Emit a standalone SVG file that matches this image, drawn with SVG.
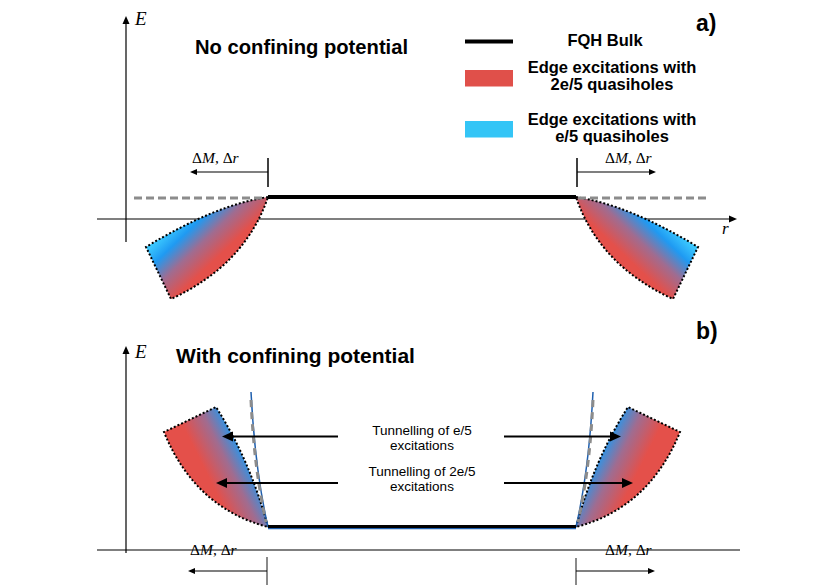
<svg xmlns="http://www.w3.org/2000/svg" width="830" height="587" viewBox="0 0 830 587">
<defs>
<linearGradient id="ga" gradientUnits="userSpaceOnUse" x1="165" y1="232" x2="207" y2="276">
<stop offset="0" stop-color="#3ccaff"/><stop offset="0.25" stop-color="#1f9af2"/><stop offset="0.55" stop-color="#a06c90"/><stop offset="0.9" stop-color="#e4504a"/>
</linearGradient>
<linearGradient id="gb" gradientUnits="userSpaceOnUse" x1="248" y1="426" x2="196" y2="452">
<stop offset="0" stop-color="#3ccaff"/><stop offset="0.25" stop-color="#1f9af2"/><stop offset="0.6" stop-color="#a06c90"/><stop offset="1" stop-color="#e4504a"/>
</linearGradient>
<path id="wa" d="M268,197 Q215,205 146,247 L171,299 Q245,265 268,197 Z"/>
<path id="wb" d="M268,527 Q250,460 216,407 L164,432 Q195,508 268,527 Z"/>
</defs>
<style>
.ax{stroke:#000;stroke-width:1.2;fill:none}
.dot{fill:none;stroke:#000;stroke-width:2;stroke-dasharray:2 2}
.bulk{stroke:#000;stroke-width:4;fill:none}
.gdash{stroke:#8c8c8c;stroke-width:3;stroke-dasharray:8 4;fill:none}
.tick{stroke:#000;stroke-width:1.5}
.tickg{stroke:#8a8a8a;stroke-width:2}
.darr{stroke:#000;stroke-width:1.2;fill:none}
.tarr{stroke:#000;stroke-width:2;fill:none}
.head{fill:#000;stroke:none}
.h{font-family:"Liberation Sans",Arial,sans-serif;font-weight:bold;fill:#000}
.t{font-family:"Liberation Sans",Arial,sans-serif;fill:#000;font-size:13.5px}
.m{font-family:"Liberation Serif","Times New Roman",serif;fill:#000}
.i{font-style:italic}
</style>

<g id="panel-a-axes">
<line class="ax" x1="126" y1="242" x2="126" y2="22"/>
<polygon class="head" points="126,16 122.5,24 129.5,24"/>
<line class="ax" x1="97" y1="219" x2="731" y2="219"/>
<polygon class="head" points="737,219 729,215.5 729,222.5"/>
<text class="m i" x="135" y="25" font-size="19">E</text>
<text class="m i" x="722" y="234" font-size="17">r</text>
</g>

<g id="panel-a-edge-left">
<use href="#wa" fill="url(#ga)"/>
<use href="#wa" class="dot"/>
</g>
<g id="panel-a-edge-right" transform="translate(844,0) scale(-1,1)">
<use href="#wa" fill="url(#ga)"/>
<use href="#wa" class="dot"/>
</g>

<g id="panel-a-bulk">
<line class="gdash" x1="134" y1="198" x2="266" y2="198"/>
<line class="gdash" x1="578" y1="198" x2="710" y2="198"/>
<line class="bulk" x1="268" y1="197" x2="576" y2="197"/>
</g>

<g id="delta-labels" class="m" font-size="15.5">
<text x="192" y="163">Δ<tspan class="i">M</tspan>, Δ<tspan class="i">r</tspan></text>
<text x="605" y="163">Δ<tspan class="i">M</tspan>, Δ<tspan class="i">r</tspan></text>
<text x="190" y="555">Δ<tspan class="i">M</tspan>, Δ<tspan class="i">r</tspan></text>
<text x="605" y="555">Δ<tspan class="i">M</tspan>, Δ<tspan class="i">r</tspan></text>
</g>

<g id="titles">
<text class="h" x="195" y="54" font-size="20.2">No confining potential</text>
<text class="h" x="176" y="363" font-size="21">With confining potential</text>
<text class="h" x="696" y="31" font-size="23">a)</text>
<text class="h" x="696" y="339" font-size="23">b)</text>
</g>

<g id="legend">
<line x1="465" y1="41.5" x2="513" y2="41.5" stroke="#000" stroke-width="4"/>
<rect x="465" y="70" width="48" height="16.5" fill="#e0504a"/>
<rect x="465" y="121" width="48" height="16.5" fill="#34c5f6"/>
<g class="h" font-size="16.5" text-anchor="middle">
<text x="605" y="46">FQH Bulk</text>
<text x="612" y="73">Edge excitations with</text>
<text x="612" y="90">2e/5 quasiholes</text>
<text x="612" y="125">Edge excitations with</text>
<text x="612" y="142">e/5 quasiholes</text>
</g>
</g>

<g id="panel-b-axes">
<line class="ax" x1="126" y1="553" x2="126" y2="352"/>
<polygon class="head" points="126,346 122.5,354 129.5,354"/>
<line class="ax" x1="97" y1="550" x2="740" y2="550"/>
<text class="m i" x="135" y="358" font-size="19">E</text>
</g>

<g id="panel-b-edge-left">
<use href="#wb" fill="url(#gb)"/>
<use href="#wb" class="dot"/>
<path d="M251,392 Q255,470 268,527" stroke="#1f5fae" stroke-width="1.5" fill="none"/>
<path d="M251,400 Q254,468 266,522" stroke="#8c8c8c" stroke-width="3" stroke-dasharray="7 5" fill="none"/>
</g>
<g id="panel-b-edge-right" transform="translate(844,0) scale(-1,1)">
<use href="#wb" fill="url(#gb)"/>
<use href="#wb" class="dot"/>
<path d="M251,392 Q255,470 268,527" stroke="#1f5fae" stroke-width="1.5" fill="none"/>
<path d="M251,400 Q254,468 266,522" stroke="#8c8c8c" stroke-width="3" stroke-dasharray="7 5" fill="none"/>
</g>

<g id="panel-b-bulk">
<line x1="268" y1="528.5" x2="576" y2="528.5" stroke="#1f5fae" stroke-width="1.5"/>
<line x1="268" y1="526.5" x2="576" y2="526.5" stroke="#000" stroke-width="3"/>
</g>

<g id="tunnelling-labels" class="t" text-anchor="middle">
<text x="422" y="435">Tunnelling of e/5</text>
<text x="422" y="449.5">excitations</text>
<text x="422" y="476">Tunnelling of 2e/5</text>
<text x="422" y="491">excitations</text>
</g>

<g id="connectors">
<line class="tick" x1="268" y1="158" x2="268" y2="187"/>
<line class="darr" x1="268" y1="172" x2="196" y2="172"/>
<polygon class="head" points="190,172 197,169 197,175"/>
<line class="tick" x1="577" y1="158" x2="577" y2="187"/>
<line class="darr" x1="577" y1="172" x2="650" y2="172"/>
<polygon class="head" points="656,172 649,169 649,175"/>
<line class="tickg" x1="267" y1="557" x2="267" y2="585"/>
<line class="darr" x1="267" y1="571" x2="194" y2="571"/>
<polygon class="head" points="188,571 195,568 195,574"/>
<line class="tickg" x1="576" y1="558" x2="576" y2="585"/>
<line class="darr" x1="576" y1="571" x2="649" y2="571"/>
<polygon class="head" points="655,571 648,568 648,574"/>
<line class="tarr" x1="338" y1="436.5" x2="230" y2="436.5"/>
<polygon class="head" points="222,436.5 233,431.5 233,441.5"/>
<line class="tarr" x1="338" y1="483" x2="224" y2="483"/>
<polygon class="head" points="216,483 227,478 227,488"/>
<line class="tarr" x1="504" y1="436.5" x2="613" y2="436.5"/>
<polygon class="head" points="621,436.5 610,431.5 610,441.5"/>
<line class="tarr" x1="504" y1="483" x2="625" y2="483"/>
<polygon class="head" points="633,483 622,478 622,488"/>
</g>
</svg>
